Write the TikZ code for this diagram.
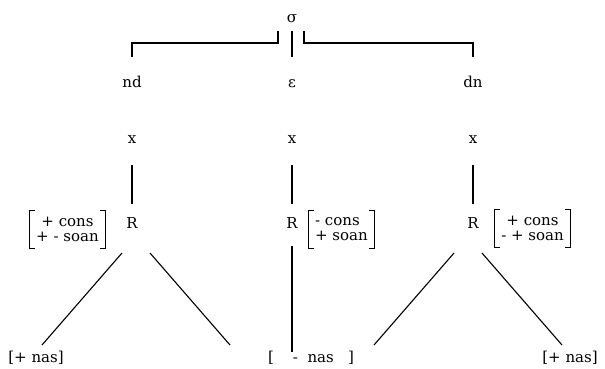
\documentclass[tikz,border=0pt]{standalone}
\usepackage{fontspec}
\setmainfont{DejaVu Serif}

\begin{document}
\begin{tikzpicture}[x=1pt,y=-1pt,line width=1.1pt,font=\fontsize{15}{15}\selectfont]
  \tikzset{
    seg/.style={anchor=base, inner sep=0pt},
    feat/.style={inner xsep=6pt, minimum height=37pt},
  }
  \useasboundingbox (0,0) rectangle (605,368);

  \node[seg] (sigma) at (292,22) {σ};

  % skeleton: segment, x, R
  \foreach \n/\cx/\lab in {a/132/nd, b/292/ε, c/473/dn} {
    \node[seg] (seg\n) at (\cx,87) {\lab};
    \node[seg] (x\n) at (\cx,143) {x};
    \node[seg] (R\n) at (\cx,228) {R};
    \draw ([shift={(0,22)}]x\n.base) -- ([shift={(0,-24)}]R\n.base);
  }

  % syllable bracket
  \coordinate (sl) at ([shift={(-14,9)}]sigma.base);
  \coordinate (sm) at ([shift={(0,9)}]sigma.base);
  \coordinate (sr) at ([shift={(12,9)}]sigma.base);
  \draw (sl) -- ++(0,12) -| ([shift={(0,-30)}]sega.base);
  \draw (sm) -- ([shift={(0,-30)}]segb.base);
  \draw (sr) -- ++(0,12) -| ([shift={(0,-30)}]segc.base);

  % feature matrices
  \node[feat, align=center] (fa) at (67.5,229.5) {+ cons\\+ - soan};
  \node[feat, align=left] (fb) at (341.5,229.5) {- cons\\+ soan};
  \node[feat, align=center] (fc) at (532.5,228.5) {+ cons\\- + soan};
  \foreach \m in {fa,fb,fc} {
    \draw[line width=0.9pt] ([xshift=5pt]\m.north west) -| (\m.south west) -- ++(5,0);
    \draw[line width=0.9pt] ([xshift=-5pt]\m.north east) -| (\m.south east) -- ++(-5,0);
  }

  % nasal leaves
  \node[seg] (nasa) at (36,362) {[+ nas]};
  \node[seg] (nasb) at (311,362) {[\ \ \ \ -\ \ nas\ \ \ ]};
  \node[seg] (nasc) at (570,362) {[+ nas]};

  \coordinate (ea1) at (42,345);
  \coordinate (ea2) at (230,345);
  \coordinate (eb) at (292,352);
  \coordinate (ec1) at (374,345);
  \coordinate (ec2) at (562,345);

  \draw ([shift={(-10,25)}]Ra.base) -- (ea1);
  \draw ([shift={(18,25)}]Ra.base) -- (ea2);
  \draw ([shift={(0,18)}]Rb.base) -- (eb);
  \draw ([shift={(-19,25)}]Rc.base) -- (ec1);
  \draw ([shift={(9,25)}]Rc.base) -- (ec2);
\end{tikzpicture}
\end{document}
